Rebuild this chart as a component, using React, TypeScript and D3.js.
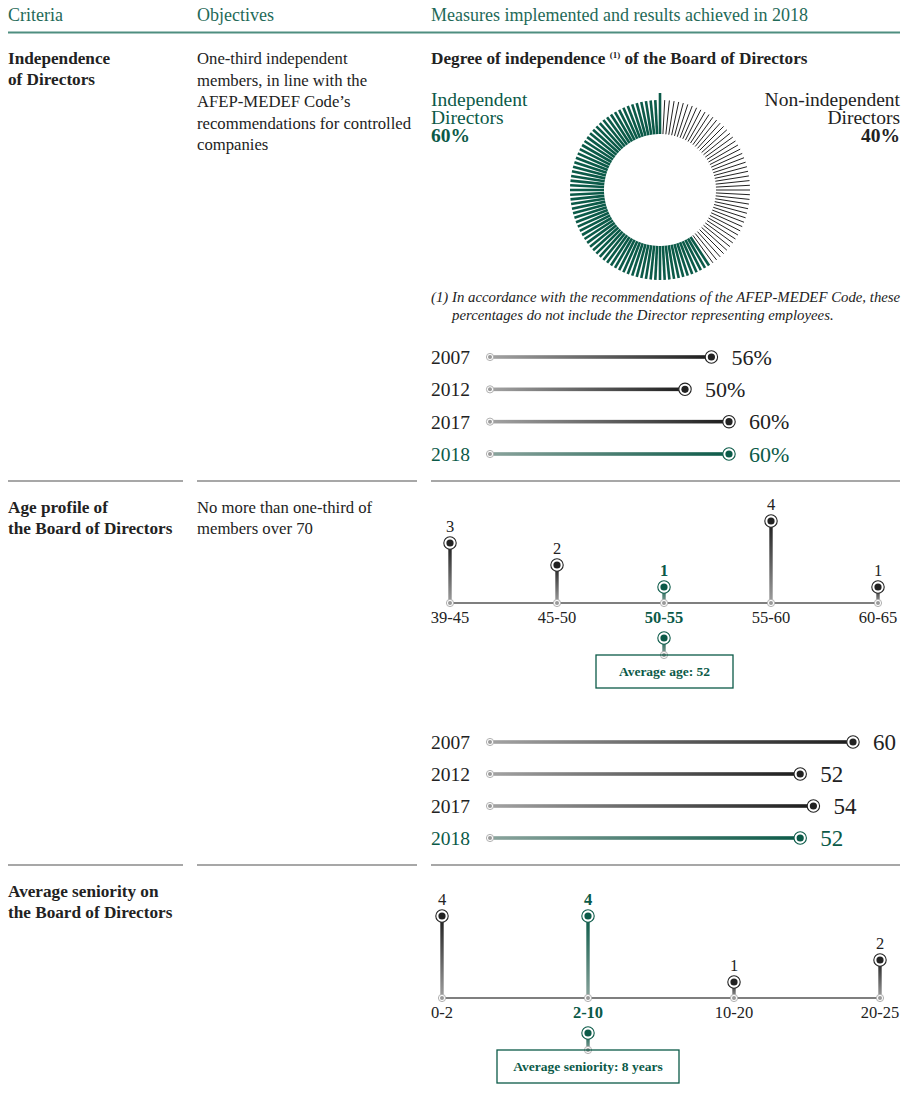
import React from "react";
import * as d3 from "d3";

// ---------- DATA ----------
const headers = ["Criteria", "Objectives", "Measures implemented and results achieved in 2018"];

const independentShare = 60;
const nonIndependentShare = 40;
const donutTickCount = 120;

const independenceYears = ["2007", "2012", "2017", "2018"];
const independenceValues = [56, 50, 60, 60];

const ageBins = ["39-45", "45-50", "50-55", "55-60", "60-65"];
const ageCounts = [3, 2, 1, 4, 1];
const averageAge = 52;
const averageAgeBin = "50-55";

const ageYears = ["2007", "2012", "2017", "2018"];
const averageAgeValues = [60, 52, 54, 52];

const seniorityBins = ["0-2", "2-10", "10-20", "20-25"];
const seniorityCounts = [4, 4, 1, 2];
const averageSeniority = 8;
const averageSeniorityBin = "2-10";

// ---------- STYLE ----------
const GREEN = "#0b5a48";
const HEAD_GREEN = "#1f6a58";
const DARK = "#222222";
const FONT = "'Liberation Serif', 'Times New Roman', serif";

const EndMarker = ({ x, y, color }: { x: number; y: number; color: string }) => (
  <g>
    <circle cx={x} cy={y} r={6.2} fill="#fff" stroke={color} strokeWidth={1.1} />
    <circle cx={x} cy={y} r={3.6} fill={color} />
  </g>
);

const StartMarker = ({ x, y }: { x: number; y: number }) => (
  <g>
    <circle cx={x} cy={y} r={3.6} fill="#fff" stroke="#b0b0b0" strokeWidth={1} />
    <circle cx={x} cy={y} r={2} fill="#9a9a9a" />
  </g>
);

function BarRows({
  years, values, x, y, valueSuffix, valueSize,
}: {
  years: string[]; values: number[]; x: d3.ScaleLinear<number, number>;
  y: d3.ScalePoint<string>; valueSuffix: string; valueSize: number;
}) {
  const x0 = 490;
  return (
    <g>
      {years.map((yr, i) => {
        const cy = y(yr)!;
        const last = i === years.length - 1;
        const color = last ? GREEN : DARK;
        const xe = x(values[i]);
        return (
          <g key={yr}>
            <text x={431} y={cy + 7} fontSize={19.5} fill={last ? GREEN : DARK}>{yr}</text>
            <rect x={x0} y={cy - 1.8} width={xe - x0} height={3.6} fill={last ? "url(#hGreen)" : "url(#hGray)"} />
            <StartMarker x={x0} y={cy} />
            <EndMarker x={xe} y={cy} color={color} />
            <text x={xe + 20} y={cy + 7.5} fontSize={valueSize} fill={color}>
              {values[i]}{valueSuffix}
            </text>
          </g>
        );
      })}
    </g>
  );
}

function Lollipop({
  bins, counts, x, y, baseY, highlight, boxLabel, boxX0, boxX1,
}: {
  bins: string[]; counts: number[]; x: d3.ScalePoint<string>; y: d3.ScaleLinear<number, number>;
  baseY: number; highlight: string; boxLabel: string; boxX0: number; boxX1: number;
}) {
  const hx = x(highlight)!;
  const markY = baseY + 35;
  const boxTop = baseY + 52;
  return (
    <g>
      <line x1={x(bins[0])!} x2={x(bins[bins.length - 1])!} y1={baseY} y2={baseY} stroke="#555" strokeWidth={1.6} />
      {bins.map((b, i) => {
        const cx = x(b)!;
        const hl = b === highlight;
        const top = y(counts[i]);
        const color = hl ? GREEN : DARK;
        return (
          <g key={b}>
            <rect x={cx - 1.7} y={top} width={3.4} height={baseY - top} fill={hl ? "url(#vGreen)" : "url(#vGray)"} />
            <StartMarker x={cx} y={baseY} />
            <EndMarker x={cx} y={top} color={color} />
            <text x={cx} y={top - 11} textAnchor="middle" fontSize={16.5} fontWeight={hl ? "bold" : "normal"} fill={color}>
              {counts[i]}
            </text>
            <text x={cx} y={baseY + 20} textAnchor="middle" fontSize={16.5} fontWeight={hl ? "bold" : "normal"} fill={color}>
              {b}
            </text>
          </g>
        );
      })}
      <rect x={hx - 1.7} y={markY} width={3.4} height={boxTop - markY} fill="url(#vGreen)" />
      <EndMarker x={hx} y={markY} color={GREEN} />
      <StartMarker x={hx} y={boxTop} />
      <rect x={boxX0} y={boxTop} width={boxX1 - boxX0} height={33} fill="none" stroke={GREEN} strokeWidth={1.3} />
      <text x={(boxX0 + boxX1) / 2} y={boxTop + 21} textAnchor="middle" fontSize={13.5} fontWeight="bold" fill={GREEN}>
        {boxLabel}
      </text>
    </g>
  );
}

export default function App() {
  // Donut
  const cx = 660, cy = 190, rIn = 56, rOut = 90;
  const step = 360 / donutTickCount;
  const greenN = Math.round((donutTickCount * independentShare) / 100);
  const blackN = Math.round((donutTickCount * nonIndependentShare) / 100);
  const greenAngles = d3.range(greenN).map((i) => -i * step);
  const blackAngles = d3.range(1, blackN + 1).map((i) => i * step);
  const pt = (deg: number, r: number) => {
    const a = (deg * Math.PI) / 180;
    return [cx + r * Math.sin(a), cy - r * Math.cos(a)];
  };

  const x1 = d3.scaleLinear().domain([0, 60]).range([465, 729]);
  const y1 = d3.scalePoint<string>().domain(independenceYears).range([357, 454]);

  const x2 = d3.scaleLinear().domain([0, 60]).range([457, 853]);
  const y2 = d3.scalePoint<string>().domain(ageYears).range([742, 838]);

  const ageX = d3.scalePoint<string>().domain(ageBins).range([450, 878]);
  const ageY = d3.scaleLinear().domain([0, 4]).range([609, 521]);

  const senX = d3.scalePoint<string>().domain(seniorityBins).range([442, 880]);
  const senY = d3.scaleLinear().domain([0, 4]).range([1004, 916]);

  const rule = (y: number, key: string) => (
    <g key={key}>
      <line x1={8} x2={183} y1={y} y2={y} stroke="#8a8a8a" strokeWidth={1.6} />
      <line x1={197} x2={417} y1={y} y2={y} stroke="#8a8a8a" strokeWidth={1.6} />
      <line x1={431} x2={900} y1={y} y2={y} stroke="#8a8a8a" strokeWidth={1.6} />
    </g>
  );

  return (
    <svg
      width={902}
      height={1105}
      style={{ position: "absolute", left: 0, top: 0, display: "block", background: "#fff" }}
      fontFamily={FONT}
    >
      <defs>
        <linearGradient id="hGray" x1="0" x2="1" y1="0" y2="0">
          <stop offset="0" stopColor="#a3a3a3" />
          <stop offset="1" stopColor="#1c1c1c" />
        </linearGradient>
        <linearGradient id="hGreen" x1="0" x2="1" y1="0" y2="0">
          <stop offset="0" stopColor="#8aa39c" />
          <stop offset="1" stopColor={GREEN} />
        </linearGradient>
        <linearGradient id="vGray" x1="0" x2="0" y1="0" y2="1">
          <stop offset="0" stopColor="#1c1c1c" />
          <stop offset="1" stopColor="#a0a0a0" />
        </linearGradient>
        <linearGradient id="vGreen" x1="0" x2="0" y1="0" y2="1">
          <stop offset="0" stopColor={GREEN} />
          <stop offset="1" stopColor="#8aa39c" />
        </linearGradient>
      </defs>

      {/* Header */}
      <text x={8} y={21} fontSize={18} fill={HEAD_GREEN}>{headers[0]}</text>
      <text x={197} y={21} fontSize={18} fill={HEAD_GREEN}>{headers[1]}</text>
      <text x={431} y={21} fontSize={18} fill={HEAD_GREEN}>{headers[2]}</text>
      <line x1={8} x2={900} y1={32.5} y2={32.5} stroke="#4e8e80" strokeWidth={2} />

      {/* Section 1 */}
      <g fontSize={16.7} fill={DARK}>
        <text x={8} y={64} fontWeight="bold" fontSize={17.2}>Independence</text>
        <text x={8} y={85} fontWeight="bold" fontSize={17.2}>of Directors</text>
        <text x={197} y={64}>One-third independent</text>
        <text x={197} y={85.5}>members, in line with the</text>
        <text x={197} y={107}>AFEP-MEDEF Code’s</text>
        <text x={197} y={128.5}>recommendations for controlled</text>
        <text x={197} y={150}>companies</text>
        <text x={431} y={64} fontWeight="bold" fontSize={17.2}>
          Degree of independence <tspan fontSize={9} dy={-6} fontWeight="bold">(1)</tspan>
          <tspan dy={6}> of the Board of Directors</tspan>
        </text>
      </g>

      <g fontSize={19.5} fill={GREEN}>
        <text x={431} y={106}>Independent</text>
        <text x={431} y={124}>Directors</text>
        <text x={431} y={142} fontWeight="bold">{independentShare}%</text>
      </g>
      <g fontSize={19.5} fill={DARK} textAnchor="end">
        <text x={900} y={106}>Non-independent</text>
        <text x={900} y={124}>Directors</text>
        <text x={900} y={142} fontWeight="bold">{nonIndependentShare}%</text>
      </g>

      {greenAngles.map((a, i) => {
        const [xa, ya] = pt(a, rIn);
        const [xb, yb] = pt(a, i === 0 ? rOut + 7 : rOut);
        return <line key={"g" + i} x1={xa} y1={ya} x2={xb} y2={yb} stroke={GREEN} strokeWidth={2.6} />;
      })}
      {blackAngles.map((a, i) => {
        const [xa, ya] = pt(a, rIn);
        const [xb, yb] = pt(a, rOut);
        return <line key={"b" + i} x1={xa} y1={ya} x2={xb} y2={yb} stroke={DARK} strokeWidth={1} />;
      })}

      <g fontSize={14.8} fill={DARK} fontStyle="italic">
        <text x={431} y={302}>(1)</text>
        <text x={452} y={302}>In accordance with the recommendations of the AFEP-MEDEF Code, these</text>
        <text x={452} y={320}>percentages do not include the Director representing employees.</text>
      </g>

      <BarRows years={independenceYears} values={independenceValues} x={x1} y={y1} valueSuffix="%" valueSize={22} />

      {rule(481, "r1")}

      {/* Section 2 */}
      <g fontSize={16.7} fill={DARK}>
        <text x={8} y={513} fontWeight="bold" fontSize={17.2}>Age profile of</text>
        <text x={8} y={534} fontWeight="bold" fontSize={17.2}>the Board of Directors</text>
        <text x={197} y={513}>No more than one-third of</text>
        <text x={197} y={534}>members over 70</text>
      </g>

      <Lollipop
        bins={ageBins}
        counts={ageCounts}
        x={ageX}
        y={ageY}
        baseY={603}
        highlight={averageAgeBin}
        boxLabel={`Average age: ${averageAge}`}
        boxX0={596}
        boxX1={733}
      />

      <BarRows years={ageYears} values={averageAgeValues} x={x2} y={y2} valueSuffix="" valueSize={23} />

      {rule(865, "r2")}

      {/* Section 3 */}
      <g fontSize={17.2} fill={DARK} fontWeight="bold">
        <text x={8} y={897}>Average seniority on</text>
        <text x={8} y={918}>the Board of Directors</text>
      </g>

      <Lollipop
        bins={seniorityBins}
        counts={seniorityCounts}
        x={senX}
        y={senY}
        baseY={998}
        highlight={averageSeniorityBin}
        boxLabel={`Average seniority: ${averageSeniority} years`}
        boxX0={497}
        boxX1={679}
      />
    </svg>
  );
}
